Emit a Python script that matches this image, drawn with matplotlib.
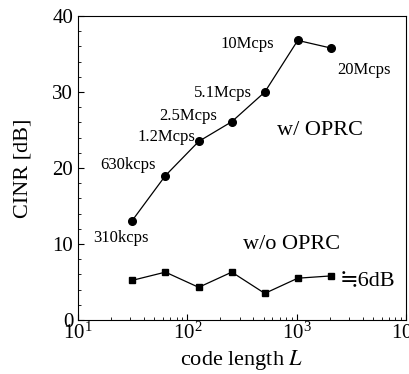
import numpy as np
import matplotlib
matplotlib.use('Agg')
import matplotlib.pyplot as plt
from matplotlib.ticker import LogLocator, MultipleLocator

# code lengths and CINR values
code_length = [31, 63, 127, 255, 511, 1023, 2047]
cinr_with = [13.0, 19.0, 23.5, 26.1, 30.0, 36.8, 35.8]
cinr_without = [5.2, 6.3, 4.3, 6.3, 3.5, 5.5, 5.8]
chip_rates = ['310kcps', '630kcps', '1.2Mcps', '2.5Mcps', '5.1Mcps', '10Mcps', '20Mcps']
label_pos = [(24.7, 10.8), (28.6, 20.4), (63.8, 24.1), (101, 26.8),
             (211, 29.9), (351, 36.3), (4140, 32.9)]

plt.rcParams['font.family'] = ['Liberation Serif', 'DejaVu Serif']
plt.rcParams['mathtext.fontset'] = 'stix'

fig = plt.figure(figsize=(4.09, 3.74), dpi=100)
ax = fig.add_axes([0.1907, 0.1444, 0.802, 0.8126])

ax.plot(code_length, cinr_with, '-o', color='black', lw=0.9, ms=5.5)
ax.plot(code_length, cinr_without, '-s', color='black', lw=0.9, ms=4.5)

for txt, (x, y) in zip(chip_rates, label_pos):
    ax.text(x, y, txt, ha='center', va='center', fontsize=12)

ax.text(1636, 25.0, 'w/ OPRC', ha='center', va='center', fontsize=16)
ax.text(902, 9.9, 'w/o OPRC', ha='center', va='center', fontsize=16)
# approx-equal sign from the CJK font, the rest in serif
ax.text(4405, 5.1, '\u22526dB', ha='center', va='center', fontsize=16,
        family=['Liberation Serif', 'Noto Sans CJK JP', 'DejaVu Serif'])

ax.set_xscale('log')
ax.set_xlim(10, 1e4)
ax.set_ylim(0, 40)
ax.yaxis.set_major_locator(MultipleLocator(10))
ax.yaxis.set_minor_locator(MultipleLocator(2))
ax.xaxis.set_minor_locator(LogLocator(base=10, subs=np.arange(2, 10)))
ax.tick_params(which='both', direction='in', labelsize=15)
ax.tick_params(which='major', length=4, width=0.8)
ax.tick_params(which='minor', length=2.5, width=0.6)
ax.tick_params(axis='x', pad=2)

ax.set_xlabel('code length $L$', fontsize=16, labelpad=3)
ax.set_ylabel('CINR [dB]', fontsize=16, labelpad=14)

fig.savefig('out.png', dpi=100)
